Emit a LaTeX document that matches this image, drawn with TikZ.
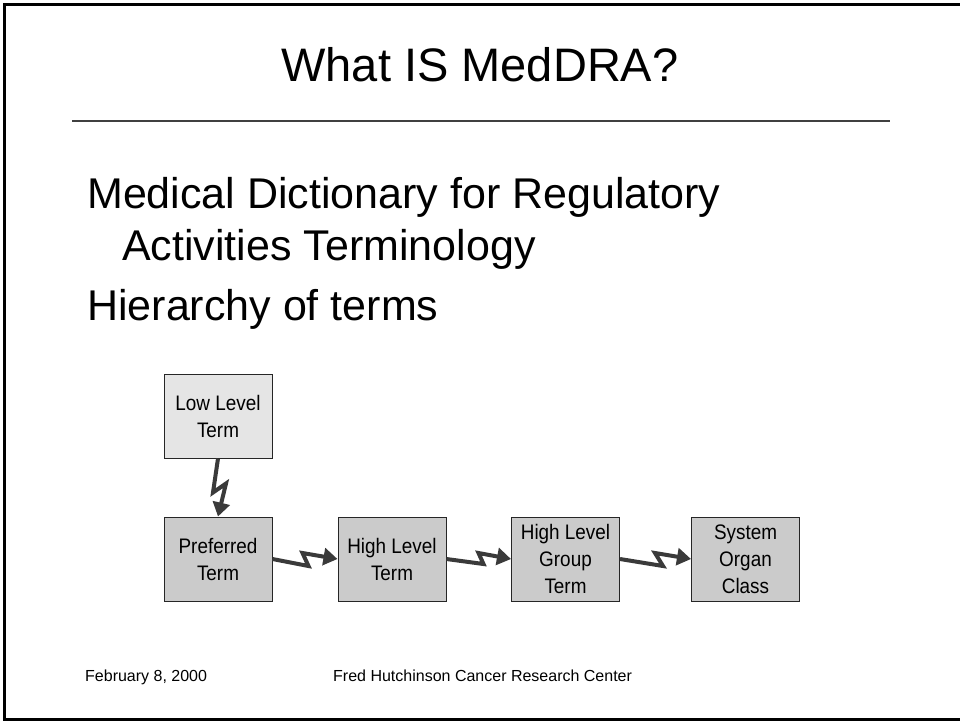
\documentclass[tikz,border=0pt]{standalone}
\usepackage{fontspec}
\setmainfont{Liberation Sans}
\newfontfamily\boxfont[FakeStretch=0.9]{Liberation Sans}
\usetikzlibrary{arrows.meta,calc}
\definecolor{lightbox}{HTML}{E5E5E5}
\definecolor{darkbox}{HTML}{CBCBCB}
\definecolor{arrowgray}{HTML}{3A3A3A}
\tikzset{
  termbox/.style={draw=black!85, line width=1pt, minimum width=108pt, minimum height=84pt,
    inner sep=0pt, align=center, font=\boxfont\fontsize{21}{27}\selectfont},
  zz/.style={draw=arrowgray, line width=4pt, line join=miter,
    -{Triangle[length=14pt,width=17pt]}},
  bodytext/.style={anchor=base west, inner sep=0pt, font=\fontsize{43}{50}\selectfont},
  foot/.style={anchor=base west, inner sep=0pt, font=\fontsize{16}{19}\selectfont},
}
\begin{document}
\begin{tikzpicture}[x=1pt,y=-1pt]
\useasboundingbox (0,0) rectangle (960,721);
\fill[white] (0,0) rectangle (960,721);
\draw[line width=3pt] (4.5,4.5) rectangle (975,719.5);
\node[anchor=base, inner sep=0pt, font=\fontsize{47}{54}\selectfont] (title) at (480,81) {What IS MedDRA?};
\coordinate (r1) at (72,121);
\coordinate (r2) at (890,121);
\draw[line width=1.5pt, black!75] (r1) -- (r2);
\node[bodytext] (l1) at (87,208) {Medical Dictionary for Regulatory};
\node[bodytext] (l2) at (122,260) {Activities Terminology};
\node[bodytext] (l3) at (87,320) {Hierarchy of terms};
\node[termbox, fill=lightbox] (llt) at (218,416) {Low Level\\Term};
\node[termbox, fill=darkbox] (pt) at (218,559) {Preferred\\Term};
\node[termbox, fill=darkbox] (hlt) at (392,559) {High Level\\Term};
\node[termbox, fill=darkbox] (hlgt) at (565.5,559) {High Level\\Group\\Term};
\node[termbox, fill=darkbox] (soc) at (745.5,559) {System\\Organ\\Class};
\draw[zz] (llt.south) -- ++(-5,34) -- ++(13,-9) -- (pt.north);
\draw[zz] (pt.east) -- ++(36,7) -- ++(-6,-13) -- (hlt.west);
\draw[zz] (hlt.east) -- ++(37,5) -- ++(-5,-11) -- (hlgt.west);
\draw[zz] (hlgt.east) -- ++(43,7) -- ++(-8,-13) -- (soc.west);
\node[foot] (date) at (85,681) {February 8, 2000};
\node[foot] (org) at (333,681) {Fred Hutchinson Cancer Research Center};
\end{tikzpicture}
\end{document}
